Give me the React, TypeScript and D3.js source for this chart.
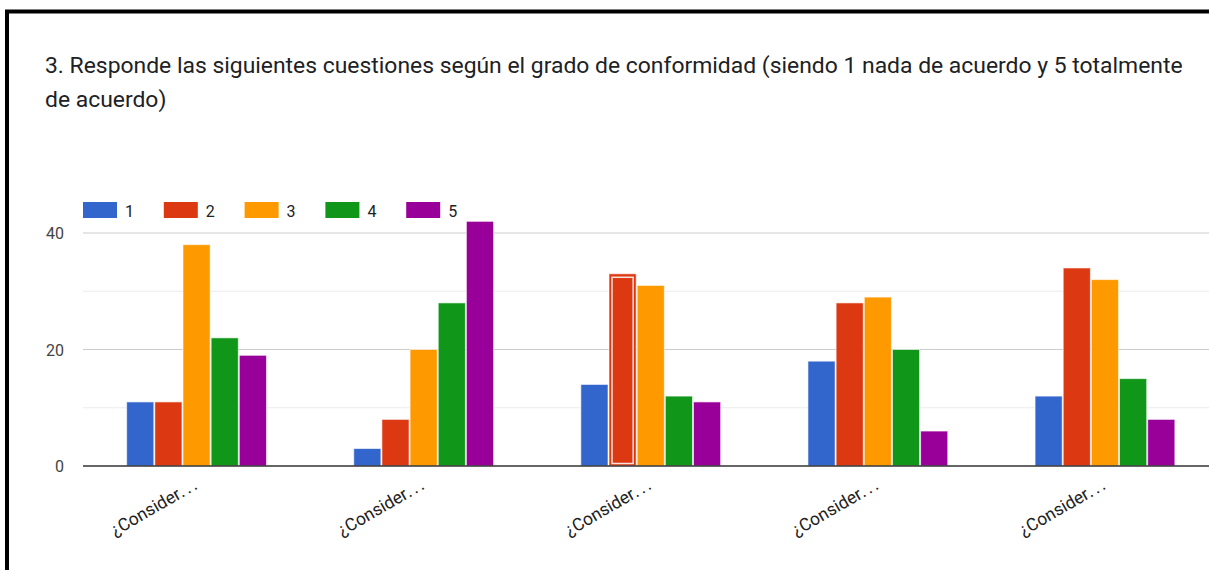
import React from "react";
import * as d3 from "d3";

const title1 = "3. Responde las siguientes cuestiones según el grado de conformidad (siendo 1 nada de acuerdo y 5 totalmente";
const title2 = "de acuerdo)";
const categories = ["¿Consider…", "¿Consider…", "¿Consider…", "¿Consider…", "¿Consider…"];
const seriesNames = ["1", "2", "3", "4", "5"];
const seriesColors = ["#3366cc", "#dc3912", "#ff9900", "#109618", "#990099"];
const s1 = [11, 3, 14, 18, 12];
const s2 = [11, 8, 33, 28, 34];
const s3 = [38, 20, 31, 29, 32];
const s4 = [22, 28, 12, 20, 15];
const s5 = [19, 42, 11, 6, 8];
const seriesValues = [s1, s2, s3, s4, s5];
const yTicks = [0, 20, 40];
const yMinor = [10, 30];
const highlighted = { series: 1, category: 2 };

const W = 1209;
const H = 570;

export default function App() {
  const plotLeft = 83;
  const plotRight = 1218.5;
  const y0 = 466;
  const y = d3.scaleLinear().domain([0, 40]).range([y0, 233]);
  const x = d3.scaleBand<number>().domain(d3.range(categories.length)).range([plotLeft, plotRight]).paddingInner(0.38).paddingOuter(0.19);
  const xs = d3.scaleBand<number>().domain(d3.range(seriesNames.length)).range([0, x.bandwidth()]).paddingInner(0.0);
  const font = "Roboto, Arial, sans-serif";

  return (
    <svg width={W} height={H} style={{ position: "absolute", left: 0, top: 0, background: "#fff" }}>
      <rect x={0} y={0} width={W} height={H} fill="#fff" />
      <rect x={7} y={11.5} width={W + 20} height={H + 20} fill="none" stroke="#000" strokeWidth={4} />
      <text x={45} y={73} fontFamily={font} fontSize={22.9} fill="#202124">{title1}</text>
      <text x={45} y={107} fontFamily={font} fontSize={22.9} fill="#202124">{title2}</text>

      {seriesNames.map((n, i) => (
        <g key={n} transform={`translate(${83 + i * 80.8},202)`}>
          <rect x={0} y={0} width={34} height={16} fill={seriesColors[i]} />
          <text x={42} y={14.5} fontFamily={font} fontSize={16} fill="#222">{n}</text>
        </g>
      ))}

      {yMinor.map((t) => (
        <line key={"m" + t} x1={plotLeft} x2={W} y1={y(t)} y2={y(t)} stroke="#ebebeb" strokeWidth={1} />
      ))}
      {yTicks.filter((t) => t !== 0).map((t) => (
        <line key={"g" + t} x1={plotLeft} x2={W} y1={y(t)} y2={y(t)} stroke="#cccccc" strokeWidth={1} />
      ))}
      {yTicks.map((t) => (
        <text key={"t" + t} x={64} y={y(t) + 6} textAnchor="end" fontFamily={font} fontSize={16} fill="#444">{t}</text>
      ))}

      {categories.map((c, ci) => (
        <g key={ci} transform={`translate(${x(ci)},0)`}>
          {seriesValues.map((vals, si) => {
            const bx = xs(si)!;
            const bw = xs.bandwidth();
            const top = y(vals[ci]);
            const hl = highlighted.series === si && highlighted.category === ci;
            return (
              <g key={si}>
                <rect x={bx + 0.5} y={top} width={bw - 1} height={y0 - top} fill={seriesColors[si]} stroke="#fff" strokeOpacity={0.6} strokeWidth={1} />
                {hl && (
                  <rect x={bx + 3.5} y={top + 3.5} width={bw - 7} height={y0 - top - 6} fill="none" stroke="#fff" strokeOpacity={0.85} strokeWidth={1.5} />
                )}
              </g>
            );
          })}
        </g>
      ))}

      <line x1={plotLeft} x2={W} y1={y0} y2={y0} stroke="#333" strokeWidth={1.5} />

      {categories.map((c, ci) => {
        const cx = x(ci)! + x.bandwidth() / 2;
        return (
          <text key={"x" + ci} transform={`translate(${cx + 4},${487}) rotate(-30)`} textAnchor="end" fontFamily={font} fontSize={17.5} fill="#222">
            {c.replace("…", "")}
            <tspan letterSpacing={2.5}>...</tspan>
          </text>
        );
      })}
    </svg>
  );
}
